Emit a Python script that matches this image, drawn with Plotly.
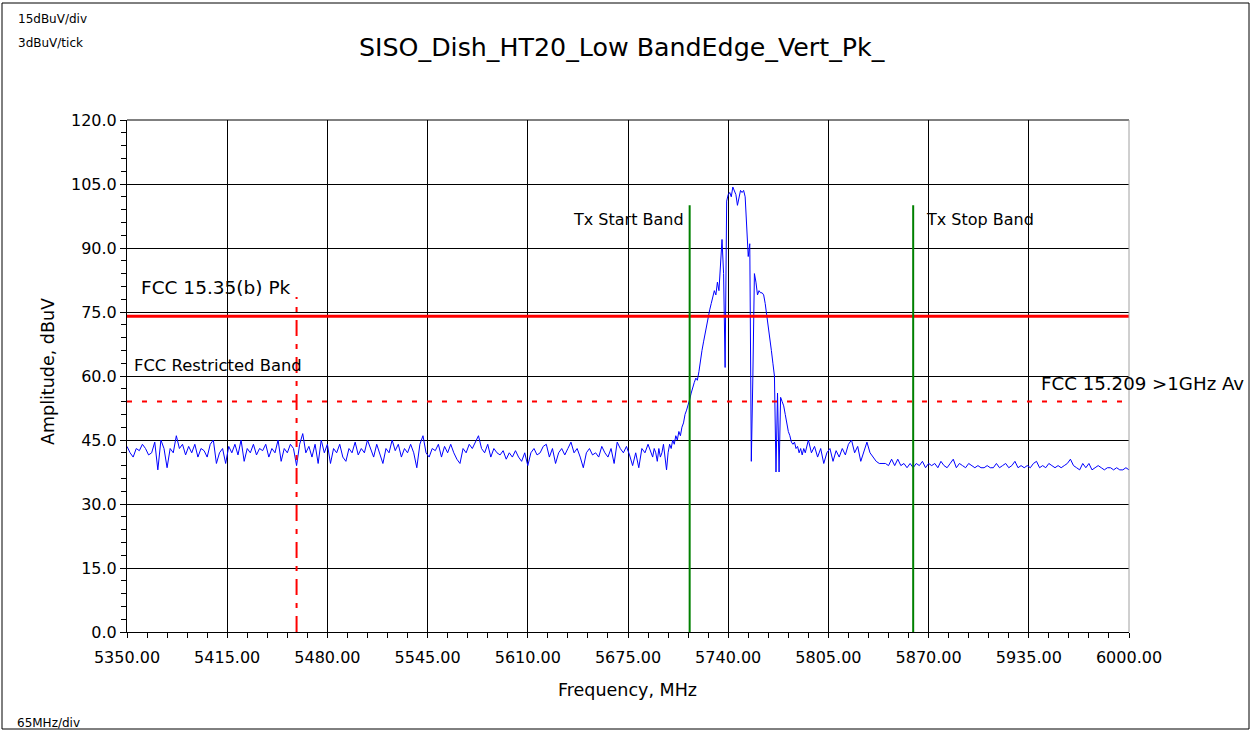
import numpy as np
import plotly.graph_objects as go

# ---------------- data ----------------
# Sweep segment 1: 5350..5688 MHz, 2 MHz step (noise floor)
seg1_start, seg1_step = 5350, 2
seg1_amp = [
    43.5, 42, 41, 43, 42.5, 44, 43, 41.5, 42, 44.5,
    38, 45, 43, 38.5, 43, 42, 46, 43, 44, 41.5,
    43.5, 42, 44, 41, 43, 42.5, 41, 44, 45, 39.5,
    42, 43, 39.5, 43.5, 42, 44, 41.5, 45, 40, 43,
    42, 44, 41.5, 43, 42.5, 44, 41, 43, 42, 45,
    40, 43, 42, 44, 43, 39, 44, 46.5, 42, 43.5,
    41, 44, 39.5, 45, 42, 44, 39.5, 43, 42, 44,
    41, 40, 43, 42, 44.5, 41.5, 43, 42, 45, 43,
    41, 44, 42, 39.5, 43, 42, 45, 42.5, 44, 41,
    43, 42, 44, 42, 38.5, 44, 46, 42, 41, 43,
    42.5, 44, 41, 43.5, 42, 44, 42, 40.5, 39.5, 43,
    42, 44, 43, 44.5, 46, 43, 42, 44, 41, 43,
    42, 41.5, 42.5, 40.5, 42, 41, 42.5, 41, 40, 42,
    39, 42, 43, 41.5, 42, 43.5, 44, 41, 43, 39.5,
    42, 43, 41.5, 43, 44.5, 42, 43, 41, 38.5, 42,
    43, 41.5, 42, 41, 43.5, 42, 41, 43, 39.5, 44.5,
    43, 42, 43.5, 41.5, 39, 42, 38.5, 43, 42, 44,
]
# Sweep segment 2: 5690..5790 MHz, 1 MHz step (carrier)
seg2_start, seg2_step = 5690, 1
seg2_amp = [
    42, 41, 43, 42, 40, 43, 41, 42, 44, 41,
    38, 42, 44, 43, 45, 44, 46, 45, 47, 46,
    48, 49, 51, 52, 53, 54.5, 56, 57.5, 58.5, 59.5,
    59, 61, 64, 66, 68, 70, 72, 74, 75.5, 77,
    78.5, 80, 79, 82, 80, 85, 92, 84, 62, 101,
    102.5, 103, 102, 104.3, 103.5, 102.5, 100, 101.5, 103.5, 103,
    103.5, 102, 96, 88, 91, 40, 60, 84, 82, 79,
    80, 79.5, 79.5, 79, 77, 74.5, 72, 69, 66, 63,
    60, 37.5, 56, 37.5, 55, 54, 53, 51, 49, 47,
    46, 44.5, 44, 44.5, 43, 43.5, 42, 43, 41.5, 43,
    42,
]
# Sweep segment 3: 5792..6000 MHz, 2 MHz step (noise floor)
seg3_start, seg3_step = 5792, 2
seg3_amp = [
    45, 42, 43.5, 41, 43, 39.5, 42, 43, 40, 42.5,
    41, 43, 41.5, 44, 45, 42, 43.5, 40, 42, 44.5,
    42, 41, 40, 39.5, 39.5, 39.5, 39, 40.5, 39, 40.5,
    39, 39.5, 38.5, 39.5, 38.5, 39.5, 39, 40, 38.5, 39.5,
    39, 39.5, 38.5, 40, 39, 38.5, 39.5, 40.5, 38.5, 39.5,
    39, 38.5, 39.5, 39, 38.5, 39, 38.5, 38.5, 39, 38.5,
    38.5, 39.5, 38.5, 39, 39.5, 38.5, 39, 40, 38.5, 39,
    38.5, 39, 38.5, 39.5, 40, 38.5, 39, 38.5, 39.5, 39,
    38.5, 39, 38.5, 39, 39.5, 40.5, 39, 38.5, 38, 39.5,
    38.5, 39.5, 38, 38.5, 39, 38.5, 38, 38.5, 38.5, 38,
    38.5, 38, 38, 38.5, 38,
]

freq = np.concatenate([
    seg1_start + seg1_step * np.arange(len(seg1_amp)),
    seg2_start + seg2_step * np.arange(len(seg2_amp)),
    seg3_start + seg3_step * np.arange(len(seg3_amp)),
])
amp = np.array(seg1_amp + seg2_amp + seg3_amp, dtype=float)

x_range = [5350, 6000]
y_range = [0, 120]
x_major, x_minor = 65, 13
y_major, y_minor = 15, 3

limit_pk = 74          # FCC 15.35(b) Pk
limit_av = 54          # FCC 15.209 >1GHz Av
restricted_edge = 5460
restricted_top = 78.5
tx_start, tx_stop = 5715, 5860
tx_top = 100

title = "SISO_Dish_HT20_Low BandEdge_Vert_Pk_"

# ---------------- layout geometry ----------------
W, H = 1251, 732
L, R, T, B = 127, 1129, 120, 632


def px(xp):
    return (xp - L) / (R - L)


def py(yp):
    return (B - yp) / (B - T)


FONT = "DejaVu Sans, Verdana, sans-serif"

fig = go.Figure()

# Trace
fig.add_trace(go.Scatter(x=freq, y=amp, mode="lines",
                         line=dict(color="#0000ff", width=1), showlegend=False))

# limit lines
fig.add_trace(go.Scatter(x=x_range, y=[limit_pk, limit_pk], mode="lines",
                         line=dict(color="#ff0000", width=3), showlegend=False))
fig.add_trace(go.Scatter(x=x_range, y=[limit_av, limit_av], mode="lines",
                         line=dict(color="#ff0000", width=2, dash="5px,10px"),
                         showlegend=False))
fig.add_trace(go.Scatter(x=[restricted_edge, restricted_edge], y=[0, restricted_top],
                         mode="lines",
                         line=dict(color="#ff0000", width=2, dash="16px,8px,5px,8px"),
                         showlegend=False))
for f in (tx_start, tx_stop):
    fig.add_trace(go.Scatter(x=[f, f], y=[0, tx_top], mode="lines",
                             line=dict(color="#008000", width=2), showlegend=False))

# frame shapes
fig.add_shape(type="line", xref="paper", yref="paper", x0=0, x1=1, y0=1, y1=1,
              line=dict(color="black", width=1))
fig.add_shape(type="line", xref="paper", yref="paper", x0=1, x1=1, y0=0, y1=1,
              line=dict(color="#a0a0a0", width=1))
fig.add_shape(type="rect", xref="paper", yref="paper",
              x0=px(2), x1=px(1249), y0=py(729), y1=py(3),
              line=dict(color="black", width=1))

ann = []


def add_text(text, x, y, size, xanchor="left", color="black", angle=0):
    ann.append(dict(text=text, x=px(x), y=py(y), xref="paper", yref="paper",
                    xanchor=xanchor, yanchor="middle", showarrow=False,
                    font=dict(family=FONT, size=size, color=color), textangle=angle))


add_text(title, 622, 47, 25.3, xanchor="center")
add_text("15dBuV/div", 16, 19, 12)
add_text("3dBuV/tick", 16, 43, 12)
add_text("65MHz/div", 15, 723, 12)
add_text("Frequency, MHz", 627, 690, 17.5, xanchor="center")
add_text("Amplitude, dBuV", 48, 372, 17.5, xanchor="center", angle=-90)
add_text("FCC 15.35(b) Pk", 139, 287, 18.5)
add_text("FCC Restricted Band", 132, 365, 16.4)
add_text("FCC 15.209 >1GHz Av", 1039, 383, 18.2)
add_text("Tx Start Band", 571, 219, 16)
add_text("Tx Stop Band", 924, 219, 16)

fig.update_layout(
    width=W, height=H,
    margin=dict(l=L, r=W - R, t=T, b=H - B, pad=0),
    paper_bgcolor="white", plot_bgcolor="white",
    annotations=ann,
    showlegend=False,
    font=dict(family=FONT, size=16, color="black"),
)
fig.update_xaxes(
    range=x_range, tick0=x_range[0], dtick=x_major, tickformat=".2f",
    showgrid=True, gridcolor="black", gridwidth=1,
    showline=True, linecolor="black", linewidth=1,
    ticks="outside", ticklen=5, tickcolor="black", ticklabelstandoff=6,
    tickfont=dict(family=FONT, size=16, color="black"),
    minor=dict(dtick=x_minor, tick0=x_range[0], ticks="outside", ticklen=5,
               tickcolor="black", showgrid=False),
    zeroline=False, fixedrange=True,
)
fig.update_yaxes(
    range=y_range, tick0=0, dtick=y_major, tickformat=".1f",
    showgrid=True, gridcolor="black", gridwidth=1,
    showline=True, linecolor="black", linewidth=1,
    ticks="outside", ticklen=6, tickcolor="black",
    tickfont=dict(family=FONT, size=16, color="black"),
    minor=dict(dtick=y_minor, tick0=0, ticks="outside", ticklen=5,
               tickcolor="black", showgrid=False),
    zeroline=False, fixedrange=True,
)

fig.write_html("out.html")
